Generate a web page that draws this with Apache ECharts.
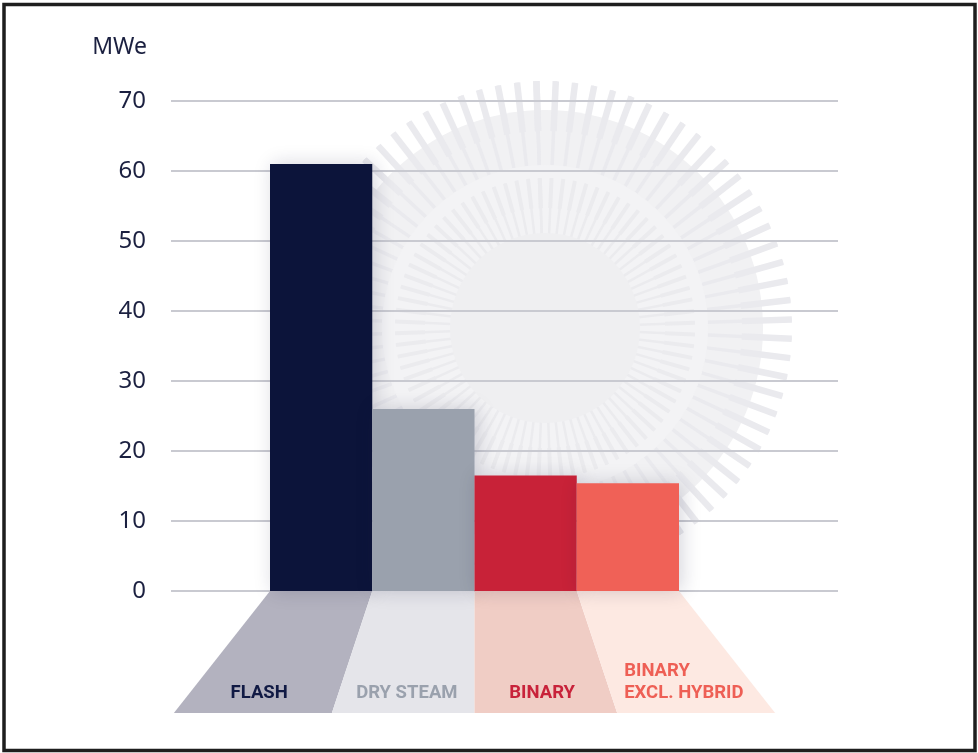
<!DOCTYPE html>
<html>
<head>
<meta charset="utf-8">
<script src="https://cdn.jsdelivr.net/npm/echarts@6/dist/echarts.min.js"></script>
<style>
  html, body { margin: 0; padding: 0; background: #ffffff; }
  #chart { width: 978px; height: 753px; }
</style>
</head>
<body>
<div id="chart"></div>
<script>
// ---- data ----
const categories = ['FLASH', 'DRY STEAM', 'BINARY', 'BINARY\nEXCL. HYBRID'];
const capacityMWe = [61, 26, 16.5, 15.4];
const yMin = 0, yMax = 70, yInterval = 10;
const unitLabel = 'MWe';

// ---- styles ----
const barColors = ['#0c143a', '#9aa1ad', '#c82238', '#f06157'];
const plateColors = ['#b3b2bf', '#e5e5ea', '#f0cdc5', '#fde9e2'];
const labelColors = ['#111a44', '#9aa1ad', '#c8223a', '#ee5f55'];
const textColor = '#1b2040';
const labelFont = 'bold 18.5px Roboto';

const measureCtx = document.createElement('canvas').getContext('2d');
function blockWidth(text) {
  measureCtx.font = labelFont;
  return Math.max.apply(null, text.split('\n').map(s => measureCtx.measureText(s).width));
}

const chart = echarts.init(document.getElementById('chart'));

const sunCenter = [545, 328];
function disc(radius, color) {
  return {
    type: 'gauge', z: 1, silent: true, center: sunCenter, radius: radius,
    startAngle: 90, endAngle: -270, min: 0, max: 80, splitNumber: 80,
    pointer: { show: false }, detail: { show: false }, title: { show: false },
    axisLabel: { show: false }, axisTick: { show: false }, splitLine: { show: false },
    axisLine: { show: true, lineStyle: { width: radius, color: [[1, color]] } },
    data: []
  };
}
function rays(radius, length, width, color) {
  return {
    type: 'gauge', z: 1, silent: true, center: sunCenter, radius: radius,
    startAngle: 92, endAngle: -268, min: 0, max: 80, splitNumber: 80,
    pointer: { show: false }, detail: { show: false }, title: { show: false },
    axisLabel: { show: false }, axisTick: { show: false },
    axisLine: { show: false, lineStyle: { width: 0 } },
    splitLine: { show: true, distance: 0, length: length, lineStyle: { width: width, color: color } },
    data: []
  };
}

const option = {
  backgroundColor: '#ffffff',
  animation: false,
  graphic: [{
    type: 'rect', z: 100, silent: true,
    shape: { x: 4, y: 4.5, width: 971, height: 746 },
    style: { fill: 'none', stroke: '#1e1e1e', lineWidth: 3.5 }
  }],
  grid: [
    { left: 171, right: 140, top: 101, bottom: 162 },
    { left: 270, right: 299, top: 101, bottom: 162 }
  ],
  xAxis: [
    { gridIndex: 0, type: 'category', data: categories, show: false },
    { gridIndex: 1, type: 'category', data: categories, show: false, boundaryGap: true }
  ],
  yAxis: [
    {
      gridIndex: 0, type: 'value', min: yMin, max: yMax, interval: yInterval, z: 3,
      name: unitLabel, nameLocation: 'end', nameGap: 54,
      nameTextStyle: { fontFamily: 'Noto Sans', fontSize: 23, color: textColor, align: 'right', verticalAlign: 'middle', padding: [0, 24, 0, 0] },
      axisLine: { show: false }, axisTick: { show: false },
      axisLabel: { fontFamily: 'Noto Sans', fontSize: 24, color: textColor, margin: 25 },
      splitLine: { show: true, lineStyle: { color: '#c9cad1', width: 2 } }
    },
    { gridIndex: 1, type: 'value', min: yMin, max: yMax, interval: yInterval, show: false }
  ],
  series: [
    disc(218, '#f1f1f3'),
    rays(247, 84, 3.5, '#eaeaee'),
    rays(247, 50, 6.5, '#eaeaee'),
    disc(163, '#f3f3f5'),
    rays(150, 56, 2.5, '#ebebee'),
    rays(150, 30, 4, '#ebebee'),
    disc(95, '#efeff1'),
    {
      type: 'custom', xAxisIndex: 1, yAxisIndex: 1, z: 4, clip: false, silent: true,
      data: categories.map((c, i) => [i]),
      renderItem: function (params, api) {
        const i = api.value(0);
        const c0 = api.coord([0, 0]);
        const c3 = api.coord([categories.length - 1, 0]);
        const w = api.size([1, 0])[0];
        const cx = (c0[0] + c3[0]) / 2;
        const half = (c3[0] - c0[0]) / 2 + w / 2;
        const p = api.coord([i, 0]);
        const xl = p[0] - w / 2, xr = p[0] + w / 2;
        const y0 = p[1], h = 122, y1 = y0 + h;
        const f = x => { const d = x - cx; return cx + d * (1.32 + 0.15 * Math.abs(d) / half); };
        const t = 0.82;
        const midX = ((xl + (f(xl) - xl) * t) + (xr + (f(xr) - xr) * t)) / 2 - (i === 0 ? 6 : 0);
        const bw = blockWidth(categories[i]);
        return {
          type: 'group',
          children: [
            { type: 'polygon', shape: { points: [[xl, y0], [xr, y0], [f(xr), y1], [f(xl), y1]] },
              style: { fill: plateColors[i] } },
            { type: 'text', style: {
                text: categories[i], x: midX - bw / 2, y: y0 + 113, align: 'left', verticalAlign: 'bottom',
                fill: labelColors[i], font: labelFont, lineHeight: 22
              } }
          ]
        };
      }
    },
    {
      type: 'bar', xAxisIndex: 1, yAxisIndex: 1, z: 5, barWidth: '100%', barCategoryGap: 0,
      data: capacityMWe.map((v, i) => ({
        value: v,
        itemStyle: { color: barColors[i], shadowBlur: 18, shadowColor: 'rgba(20,20,60,0.18)', shadowOffsetX: 3 }
      }))
    }
  ]
};
chart.setOption(option);
</script>
</body>
</html>
